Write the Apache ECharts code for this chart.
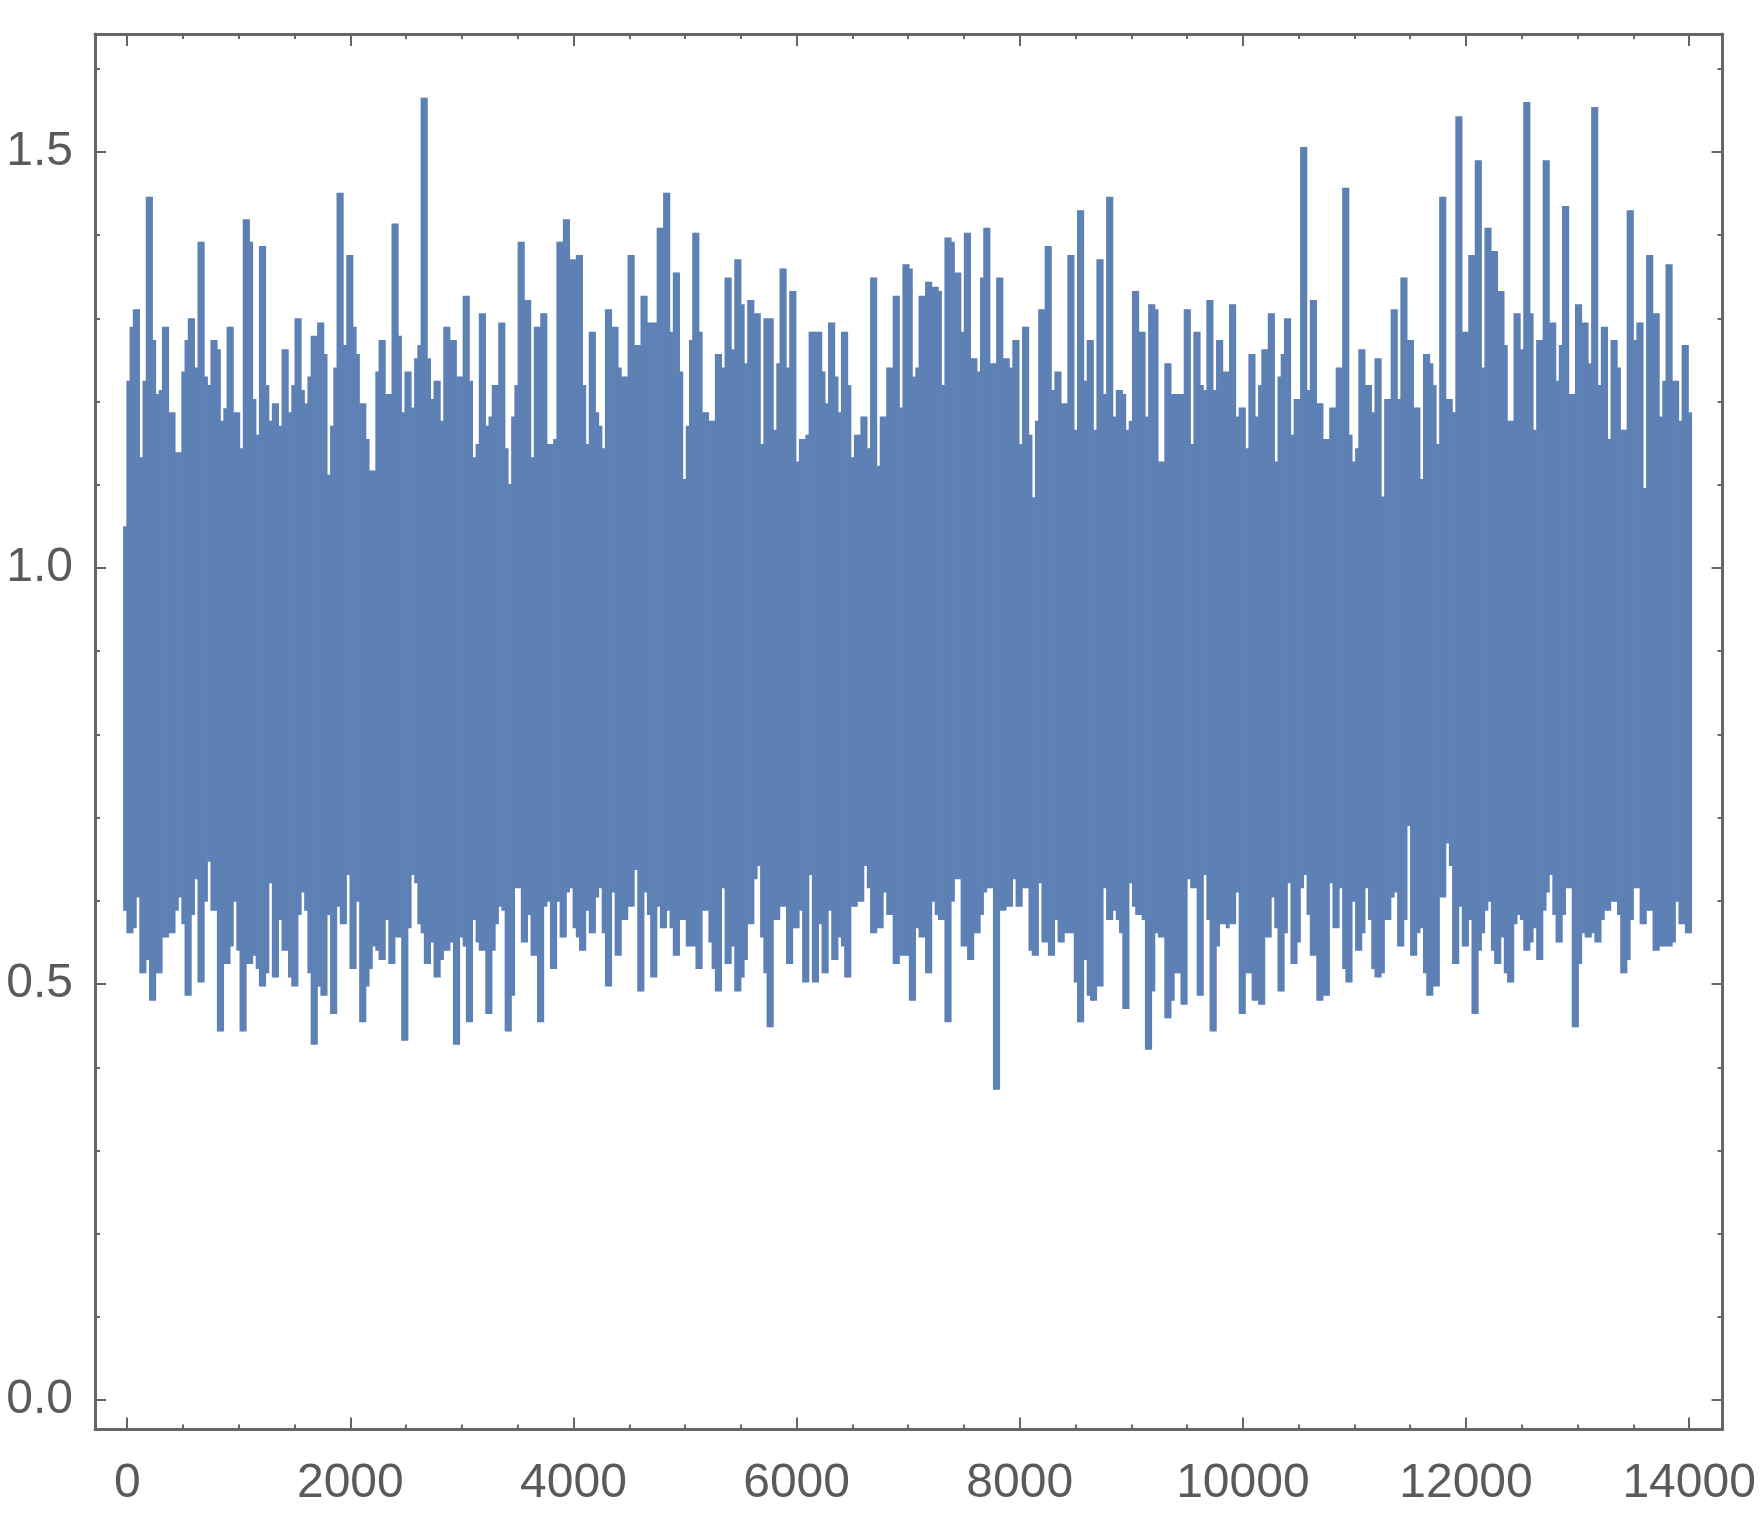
<!DOCTYPE html>
<html><head><meta charset="utf-8">
<script src="https://cdn.jsdelivr.net/npm/echarts@6/dist/echarts.min.js"></script>
<style>html,body{margin:0;padding:0;background:#fff}#c{width:1762px;height:1532px}</style>
</head><body><div id="c"></div>
<script>
// Upper and lower envelope of the dense series, one value per rendered column (left to right)
const upper = [1.05,
1.225,1.290,1.311,1.311,1.133,1.225,1.446,1.446,1.274,1.209,
1.214,1.290,1.290,1.187,1.187,1.139,1.139,1.236,1.274,1.300,
1.300,1.241,1.392,1.392,1.230,1.220,1.274,1.274,1.263,1.177,
1.192,1.290,1.290,1.187,1.187,1.144,1.419,1.419,1.392,1.203,
1.160,1.387,1.387,1.220,1.177,1.198,1.198,1.171,1.263,1.263,
1.187,1.220,1.300,1.300,1.214,1.198,1.230,1.279,1.279,1.295,
1.295,1.257,1.112,1.171,1.241,1.451,1.451,1.268,1.376,1.376,
1.290,1.257,1.198,1.198,1.155,1.117,1.117,1.236,1.274,1.274,
1.209,1.209,1.414,1.414,1.279,1.187,1.236,1.236,1.193,1.252,
1.268,1.565,1.565,1.252,1.203,1.225,1.225,1.177,1.290,1.290,
1.274,1.274,1.230,1.230,1.327,1.327,1.225,1.133,1.149,1.306,
1.306,1.171,1.182,1.220,1.220,1.295,1.295,1.144,1.101,1.182,
1.220,1.392,1.392,1.322,1.322,1.133,1.290,1.290,1.306,1.306,
1.149,1.149,1.155,1.392,1.392,1.419,1.419,1.371,1.371,1.376,
1.376,1.220,1.149,1.284,1.284,1.187,1.171,1.144,1.311,1.311,
1.290,1.290,1.241,1.230,1.230,1.376,1.376,1.268,1.268,1.327,
1.327,1.295,1.295,1.295,1.409,1.409,1.451,1.451,1.284,1.355,
1.355,1.236,1.107,1.171,1.274,1.403,1.403,1.284,1.187,1.187,
1.177,1.177,1.257,1.257,1.241,1.349,1.349,1.263,1.371,1.371,
1.317,1.246,1.322,1.322,1.306,1.306,1.149,1.300,1.300,1.300,
1.166,1.246,1.360,1.360,1.241,1.333,1.333,1.128,1.155,1.155,
1.160,1.284,1.284,1.284,1.284,1.236,1.198,1.295,1.295,1.230,
1.187,1.284,1.284,1.220,1.133,1.160,1.160,1.182,1.182,1.144,
1.349,1.349,1.123,1.182,1.182,1.241,1.241,1.327,1.327,1.193,
1.365,1.365,1.360,1.230,1.241,1.327,1.327,1.344,1.344,1.338,
1.338,1.333,1.220,1.397,1.397,1.392,1.355,1.355,1.284,1.403,
1.403,1.252,1.252,1.236,1.349,1.409,1.409,1.246,1.246,1.349,
1.349,1.252,1.252,1.241,1.274,1.274,1.149,1.290,1.290,1.160,
1.085,1.177,1.311,1.311,1.387,1.387,1.214,1.236,1.236,1.198,
1.198,1.376,1.376,1.166,1.430,1.430,1.225,1.274,1.274,1.166,
1.371,1.371,1.209,1.446,1.446,1.182,1.214,1.214,1.209,1.166,
1.177,1.333,1.333,1.284,1.284,1.182,1.317,1.317,1.311,1.128,
1.128,1.246,1.246,1.209,1.209,1.209,1.209,1.311,1.311,1.149,
1.284,1.284,1.220,1.214,1.322,1.322,1.214,1.274,1.274,1.236,
1.236,1.317,1.317,1.182,1.193,1.193,1.144,1.257,1.257,1.182,
1.220,1.263,1.263,1.306,1.306,1.128,1.230,1.257,1.300,1.300,
1.160,1.203,1.203,1.506,1.506,1.214,1.322,1.322,1.198,1.198,
1.155,1.155,1.193,1.193,1.241,1.241,1.457,1.457,1.160,1.128,
1.144,1.263,1.263,1.220,1.220,1.187,1.252,1.252,1.086,1.203,
1.203,1.311,1.311,1.203,1.349,1.349,1.274,1.274,1.193,1.193,
1.107,1.257,1.257,1.246,1.220,1.149,1.446,1.446,1.203,1.203,
1.187,1.543,1.543,1.284,1.284,1.376,1.376,1.490,1.490,1.241,
1.409,1.409,1.381,1.381,1.333,1.333,1.268,1.177,1.177,1.306,
1.306,1.263,1.560,1.560,1.306,1.166,1.274,1.274,1.490,1.490,
1.295,1.295,1.225,1.268,1.435,1.435,1.209,1.209,1.317,1.317,
1.295,1.295,1.246,1.554,1.554,1.220,1.290,1.290,1.155,1.274,
1.274,1.241,1.166,1.166,1.430,1.430,1.274,1.295,1.295,1.096,
1.376,1.376,1.306,1.306,1.182,1.225,1.365,1.365,1.225,1.225,
1.177,1.268,1.268,1.187];

const lower = [0.588,
0.561,0.561,0.567,0.604,0.513,0.513,0.529,0.480,0.480,0.513,
0.513,0.556,0.556,0.561,0.561,0.588,0.604,0.572,0.486,0.486,
0.583,0.626,0.502,0.502,0.599,0.647,0.588,0.588,0.443,0.443,
0.524,0.524,0.545,0.599,0.540,0.443,0.443,0.524,0.524,0.534,
0.518,0.497,0.497,0.513,0.621,0.508,0.508,0.577,0.540,0.540,
0.508,0.497,0.497,0.583,0.610,0.588,0.513,0.427,0.427,0.497,
0.486,0.486,0.583,0.464,0.464,0.593,0.572,0.572,0.631,0.518,
0.518,0.599,0.454,0.454,0.497,0.518,0.545,0.540,0.529,0.529,
0.577,0.524,0.524,0.556,0.556,0.432,0.432,0.567,0.631,0.621,
0.572,0.561,0.524,0.524,0.550,0.508,0.508,0.529,0.540,0.540,
0.550,0.427,0.427,0.556,0.545,0.454,0.454,0.577,0.550,0.540,
0.540,0.464,0.464,0.540,0.572,0.593,0.588,0.443,0.443,0.486,
0.615,0.615,0.550,0.550,0.583,0.534,0.534,0.454,0.454,0.593,
0.599,0.518,0.518,0.599,0.556,0.556,0.610,0.615,0.567,0.556,
0.540,0.540,0.588,0.561,0.561,0.604,0.615,0.561,0.497,0.497,
0.610,0.534,0.534,0.577,0.577,0.593,0.593,0.637,0.491,0.491,
0.610,0.583,0.508,0.508,0.593,0.567,0.567,0.588,0.567,0.534,
0.534,0.577,0.577,0.545,0.545,0.545,0.518,0.518,0.588,0.588,
0.550,0.518,0.491,0.491,0.615,0.524,0.524,0.545,0.491,0.491,
0.508,0.529,0.572,0.572,0.626,0.642,0.556,0.513,0.448,0.448,
0.577,0.577,0.593,0.593,0.524,0.524,0.567,0.567,0.588,0.502,
0.502,0.631,0.502,0.502,0.572,0.513,0.513,0.588,0.529,0.529,
0.556,0.545,0.508,0.508,0.593,0.593,0.599,0.599,0.642,0.615,
0.561,0.561,0.567,0.567,0.610,0.583,0.583,0.524,0.524,0.534,
0.534,0.534,0.480,0.480,0.567,0.556,0.556,0.513,0.513,0.599,
0.583,0.577,0.577,0.454,0.454,0.599,0.626,0.626,0.545,0.545,
0.529,0.529,0.561,0.561,0.583,0.610,0.615,0.615,0.373,0.373,
0.588,0.588,0.593,0.593,0.626,0.593,0.593,0.615,0.615,0.540,
0.534,0.534,0.621,0.550,0.550,0.534,0.534,0.577,0.550,0.550,
0.561,0.561,0.561,0.502,0.454,0.454,0.529,0.486,0.480,0.480,
0.497,0.497,0.615,0.577,0.577,0.588,0.577,0.561,0.470,0.470,
0.621,0.593,0.583,0.583,0.577,0.421,0.421,0.491,0.561,0.556,
0.556,0.459,0.459,0.480,0.513,0.513,0.475,0.475,0.626,0.615,
0.615,0.486,0.486,0.631,0.577,0.443,0.443,0.545,0.572,0.572,
0.567,0.572,0.572,0.610,0.464,0.464,0.513,0.513,0.480,0.480,
0.475,0.475,0.556,0.556,0.604,0.567,0.491,0.491,0.561,0.621,
0.524,0.524,0.550,0.615,0.631,0.583,0.534,0.534,0.480,0.480,
0.486,0.486,0.621,0.567,0.567,0.615,0.518,0.502,0.502,0.599,
0.540,0.540,0.561,0.615,0.577,0.518,0.508,0.508,0.513,0.577,
0.577,0.604,0.610,0.545,0.545,0.577,0.690,0.534,0.534,0.561,
0.567,0.513,0.486,0.486,0.497,0.497,0.604,0.604,0.669,0.642,
0.524,0.524,0.593,0.545,0.545,0.577,0.464,0.464,0.540,0.561,
0.588,0.599,0.540,0.524,0.524,0.556,0.513,0.502,0.502,0.572,
0.583,0.577,0.540,0.540,0.550,0.567,0.529,0.529,0.588,0.610,
0.631,0.583,0.550,0.550,0.583,0.615,0.615,0.448,0.448,0.524,
0.561,0.556,0.556,0.561,0.550,0.550,0.577,0.588,0.588,0.599,
0.599,0.583,0.513,0.513,0.529,0.577,0.615,0.615,0.572,0.572,
0.588,0.588,0.540,0.540,0.545,0.545,0.545,0.545,0.550,0.599,
0.572,0.572,0.561,0.561];

// Sample-index range covered by the columns
const SERIES_X_START = -37;
const SERIES_X_END = 14020;

// Axis ticks
const xMajorTicks = [0, 2000, 4000, 6000, 8000, 10000, 12000, 14000];
const xMinorTicks = [500, 1000, 1500, 2500, 3000, 3500, 4500, 5000, 5500, 6500, 7000, 7500,
  8500, 9000, 9500, 10500, 11000, 11500, 12500, 13000, 13500];
const yMajorTicks = [0, 0.5, 1.0, 1.5];
const yMinorTicks = [0.1, 0.2, 0.3, 0.4, 0.6, 0.7, 0.8, 0.9, 1.1, 1.2, 1.3, 1.4, 1.6];

const X_MIN = -289, X_MAX = 14300;
const Y_MIN = -0.0352, Y_MAX = 1.6417;

const FRAME = '#666666';
const BLUE = '#5e81b5';
const FONT = "'Liberation Sans', Arial, sans-serif";
const LABEL_SIZE = 48;

const n = Math.min(upper.length, lower.length);
const colStep = (SERIES_X_END - SERIES_X_START) / n;
const cols = [];
for (let i = 0; i < n; i++) {
  const x0 = SERIES_X_START + i * colStep;
  cols.push([x0, x0 + colStep, lower[i], upper[i]]);
}

function xAx(pos, ticks, len, withLine, withLabel) {
  return {
    type: 'value', min: X_MIN, max: X_MAX, position: pos,
    axisLine: { show: withLine, onZero: false, lineStyle: { color: FRAME, width: 3 } },
    axisTick: { show: true, inside: true, length: len, customValues: ticks, lineStyle: { color: FRAME, width: 2 } },
    axisLabel: withLabel ? { show: true, customValues: ticks, formatter: v => String(v), margin: 30,
      fontSize: LABEL_SIZE, color: '#5a5a5a', fontFamily: FONT } : { show: false },
    splitLine: { show: false }, z: 5
  };
}
function yAx(pos, ticks, len, withLine, withLabel) {
  return {
    type: 'value', min: Y_MIN, max: Y_MAX, position: pos,
    axisLine: { show: withLine, onZero: false, lineStyle: { color: FRAME, width: 3 } },
    axisTick: { show: true, inside: true, length: len, customValues: ticks, lineStyle: { color: FRAME, width: 2 } },
    axisLabel: withLabel ? { show: true, customValues: ticks, formatter: v => Number(v).toFixed(1),
      margin: 22, fontSize: LABEL_SIZE, color: '#5a5a5a', fontFamily: FONT } : { show: false },
    splitLine: { show: false }, z: 5
  };
}

const chart = echarts.init(document.getElementById('c'), null, { renderer: 'canvas' });
chart.setOption({
  animation: false,
  backgroundColor: '#ffffff',
  grid: { left: 95, top: 34, right: 39.4, bottom: 102.6, containLabel: false, outerBoundsMode: 'none' },
  xAxis: [
    xAx('bottom', xMajorTicks, 12, true, true),
    xAx('bottom', xMinorTicks, 5, false, false),
    xAx('top', xMajorTicks, 12, true, false),
    xAx('top', xMinorTicks, 5, false, false)
  ],
  yAxis: [
    yAx('left', yMajorTicks, 11, true, true),
    yAx('left', yMinorTicks, 5, false, false),
    yAx('right', yMajorTicks, 11, true, false),
    yAx('right', yMinorTicks, 5, false, false)
  ],
  series: [{
    type: 'custom',
    xAxisIndex: 0, yAxisIndex: 0,
    data: cols,
    encode: { x: [0, 1], y: [2, 3] },
    silent: true,
    renderItem: function (params, api) {
      const pTop = api.coord([api.value(0), api.value(3)]);
      const pBot = api.coord([api.value(1), api.value(2)]);
      return {
        type: 'rect',
        shape: { x: pTop[0], y: pTop[1], width: pBot[0] - pTop[0] + 0.7, height: pBot[1] - pTop[1] },
        style: { fill: BLUE }
      };
    }
  }]
});
</script>
</body></html>
